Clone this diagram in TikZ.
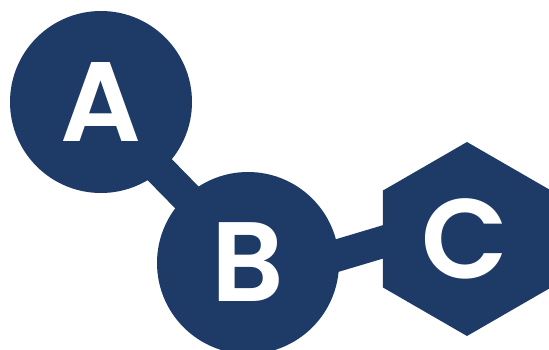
\documentclass[tikz,border=0pt]{standalone}
\usepackage{fontspec}
\setmainfont{Poppins}[BoldFont={Poppins SemiBold}]
\usepackage{xcolor}
\usetikzlibrary{shapes.geometric}
\definecolor{molblue}{HTML}{1E3A66}
\tikzset{
    atom/.style={circle, fill=molblue, text=white, minimum size=182pt, inner sep=0pt, font=\fontsize{113}{113}\selectfont\bfseries},
    ring/.style={regular polygon, regular polygon sides=6, shape border rotate=30, fill=molblue, text=white, minimum size=194pt, inner sep=0pt, font=\fontsize{113}{113}\selectfont\bfseries},
    bond/.style={molblue, line width=32pt, shorten <=-6pt, shorten >=-6pt}
}
\begin{document}
\begin{tikzpicture}[x=1pt,y=-1pt]

\useasboundingbox (0,0) rectangle (549,350);

% Atoms
\node[atom] (nodeA) at (101,102) {A};
\node[atom] (nodeB) at (248,263) {\raisebox{2pt}{B}};
\node[ring] (nodeC) at (467,239) {\hspace{-4pt}C};

% Bonds
\draw[bond] (nodeA.-49) -- (nodeB.133);
\draw[bond] (nodeB.5) -- (nodeC.182);

\end{tikzpicture}
\end{document}
